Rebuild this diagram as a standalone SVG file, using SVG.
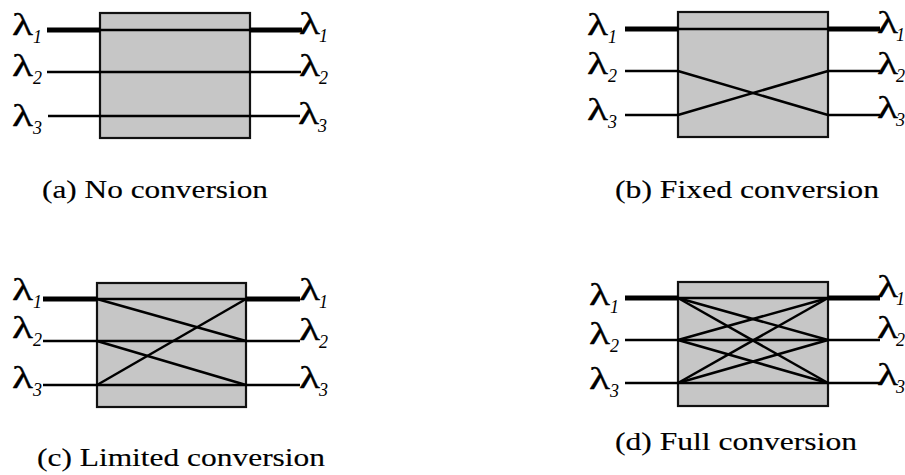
<svg xmlns="http://www.w3.org/2000/svg" width="905" height="475" viewBox="0 0 905 475">
<style>
.box{fill:#c6c6c6;stroke:#111;stroke-width:2.2}
.thick{stroke:#000;stroke-width:5;fill:none}
.thin{stroke:#000;stroke-width:2.5;fill:none}
.lam{font-family:"Liberation Serif","Times New Roman",serif;font-size:32px;fill:#000;stroke:#000;stroke-width:0.3}
.sub{font-family:"Liberation Serif","Times New Roman",serif;font-size:18px;font-style:italic;fill:#000}
.cap{font-family:"Liberation Serif","Times New Roman",serif;font-size:26px;fill:#000;stroke:#000;stroke-width:0.15}
</style>
<rect width="905" height="475" fill="#fff"/>

<!-- Panel a -->
<g id="panel-a">
  <rect class="box" x="100" y="13" width="150" height="125"/>
  <g id="connectors-a">
    <line class="thick" x1="47" y1="30" x2="100" y2="30"/>
    <line class="thin" x1="100" y1="30" x2="250" y2="30"/>
    <line class="thick" x1="250" y1="30" x2="302" y2="30"/>
    <line class="thin" x1="47" y1="72" x2="301" y2="72"/>
    <line class="thin" x1="48" y1="116" x2="300" y2="116"/>
  </g>
  <text class="lam" x="12" y="35" textLength="21" lengthAdjust="spacingAndGlyphs">λ</text><text class="sub" x="33" y="43">1</text>
  <text class="lam" x="12" y="76" textLength="21" lengthAdjust="spacingAndGlyphs">λ</text><text class="sub" x="33" y="84">2</text>
  <text class="lam" x="12" y="126" textLength="21" lengthAdjust="spacingAndGlyphs">λ</text><text class="sub" x="33" y="134">3</text>
  <text class="lam" x="299" y="34" textLength="21" lengthAdjust="spacingAndGlyphs">λ</text><text class="sub" x="319" y="42">1</text>
  <text class="lam" x="299" y="76" textLength="21" lengthAdjust="spacingAndGlyphs">λ</text><text class="sub" x="319" y="84">2</text>
  <text class="lam" x="298" y="124" textLength="21" lengthAdjust="spacingAndGlyphs">λ</text><text class="sub" x="318" y="132">3</text>
  <text class="cap" x="42" y="198" textLength="226" lengthAdjust="spacingAndGlyphs">(a) No conversion</text>
</g>

<!-- Panel b -->
<g id="panel-b">
  <rect class="box" x="678" y="12" width="150" height="125"/>
  <g id="connectors-b">
    <line class="thick" x1="625" y1="29" x2="678" y2="29"/>
    <line class="thin" x1="678" y1="29" x2="828" y2="29"/>
    <line class="thick" x1="828" y1="29" x2="880" y2="29"/>
    <line class="thin" x1="625" y1="71" x2="678" y2="71"/>
    <line class="thin" x1="678" y1="71" x2="828" y2="115"/>
    <line class="thin" x1="828" y1="71" x2="880" y2="71"/>
    <line class="thin" x1="625" y1="115" x2="678" y2="115"/>
    <line class="thin" x1="678" y1="115" x2="828" y2="71"/>
    <line class="thin" x1="828" y1="115" x2="880" y2="115"/>
  </g>
  <text class="lam" x="587" y="35" textLength="21" lengthAdjust="spacingAndGlyphs">λ</text><text class="sub" x="608" y="43">1</text>
  <text class="lam" x="587" y="74" textLength="21" lengthAdjust="spacingAndGlyphs">λ</text><text class="sub" x="608" y="82">2</text>
  <text class="lam" x="587" y="120" textLength="21" lengthAdjust="spacingAndGlyphs">λ</text><text class="sub" x="608" y="128">3</text>
  <text class="lam" x="877" y="33" textLength="21" lengthAdjust="spacingAndGlyphs">λ</text><text class="sub" x="896" y="41">1</text>
  <text class="lam" x="877" y="74" textLength="21" lengthAdjust="spacingAndGlyphs">λ</text><text class="sub" x="896" y="82">2</text>
  <text class="lam" x="877" y="118" textLength="21" lengthAdjust="spacingAndGlyphs">λ</text><text class="sub" x="896" y="126">3</text>
  <text class="cap" x="615" y="198" textLength="264" lengthAdjust="spacingAndGlyphs">(b) Fixed conversion</text>
</g>

<!-- Panel c -->
<g id="panel-c">
  <rect class="box" x="97" y="283" width="149" height="124"/>
  <g id="connectors-c">
    <line class="thick" x1="43" y1="299" x2="97" y2="299"/>
    <line class="thin" x1="97" y1="299" x2="246" y2="299"/>
    <line class="thick" x1="246" y1="299" x2="300" y2="299"/>
    <line class="thin" x1="43" y1="341" x2="300" y2="341"/>
    <line class="thin" x1="43" y1="385" x2="300" y2="385"/>
    <line class="thin" x1="97" y1="299" x2="246" y2="341"/>
    <line class="thin" x1="97" y1="341" x2="246" y2="385"/>
    <line class="thin" x1="97" y1="385" x2="246" y2="299"/>
  </g>
  <text class="lam" x="12" y="300" textLength="21" lengthAdjust="spacingAndGlyphs">λ</text><text class="sub" x="33" y="308">1</text>
  <text class="lam" x="12" y="338" textLength="21" lengthAdjust="spacingAndGlyphs">λ</text><text class="sub" x="33" y="346">2</text>
  <text class="lam" x="12" y="388" textLength="21" lengthAdjust="spacingAndGlyphs">λ</text><text class="sub" x="33" y="396">3</text>
  <text class="lam" x="299" y="300" textLength="21" lengthAdjust="spacingAndGlyphs">λ</text><text class="sub" x="319" y="308">1</text>
  <text class="lam" x="299" y="340" textLength="21" lengthAdjust="spacingAndGlyphs">λ</text><text class="sub" x="319" y="348">2</text>
  <text class="lam" x="299" y="388" textLength="21" lengthAdjust="spacingAndGlyphs">λ</text><text class="sub" x="319" y="396">3</text>
  <text class="cap" x="37" y="466" textLength="288" lengthAdjust="spacingAndGlyphs">(c) Limited conversion</text>
</g>

<!-- Panel d -->
<g id="panel-d">
  <rect class="box" x="678" y="282" width="150" height="124"/>
  <g id="connectors-d">
    <line class="thick" x1="625" y1="298" x2="678" y2="298"/>
    <line class="thin" x1="678" y1="298" x2="828" y2="298"/>
    <line class="thick" x1="828" y1="298" x2="880" y2="298"/>
    <line class="thin" x1="625" y1="340" x2="880" y2="340"/>
    <line class="thin" x1="625" y1="383" x2="880" y2="383"/>
    <line class="thin" x1="678" y1="298" x2="828" y2="340"/>
    <line class="thin" x1="678" y1="298" x2="828" y2="383"/>
    <line class="thin" x1="678" y1="340" x2="828" y2="298"/>
    <line class="thin" x1="678" y1="340" x2="828" y2="383"/>
    <line class="thin" x1="678" y1="383" x2="828" y2="298"/>
    <line class="thin" x1="678" y1="383" x2="828" y2="340"/>
  </g>
  <text class="lam" x="589" y="305" textLength="21" lengthAdjust="spacingAndGlyphs">λ</text><text class="sub" x="610" y="313">1</text>
  <text class="lam" x="589" y="344" textLength="21" lengthAdjust="spacingAndGlyphs">λ</text><text class="sub" x="610" y="352">2</text>
  <text class="lam" x="589" y="389" textLength="21" lengthAdjust="spacingAndGlyphs">λ</text><text class="sub" x="610" y="397">3</text>
  <text class="lam" x="877" y="297" textLength="21" lengthAdjust="spacingAndGlyphs">λ</text><text class="sub" x="896" y="305">1</text>
  <text class="lam" x="877" y="338" textLength="21" lengthAdjust="spacingAndGlyphs">λ</text><text class="sub" x="896" y="346">2</text>
  <text class="lam" x="877" y="385" textLength="21" lengthAdjust="spacingAndGlyphs">λ</text><text class="sub" x="896" y="393">3</text>
  <text class="cap" x="615" y="450" textLength="242" lengthAdjust="spacingAndGlyphs">(d) Full conversion</text>
</g>
</svg>
